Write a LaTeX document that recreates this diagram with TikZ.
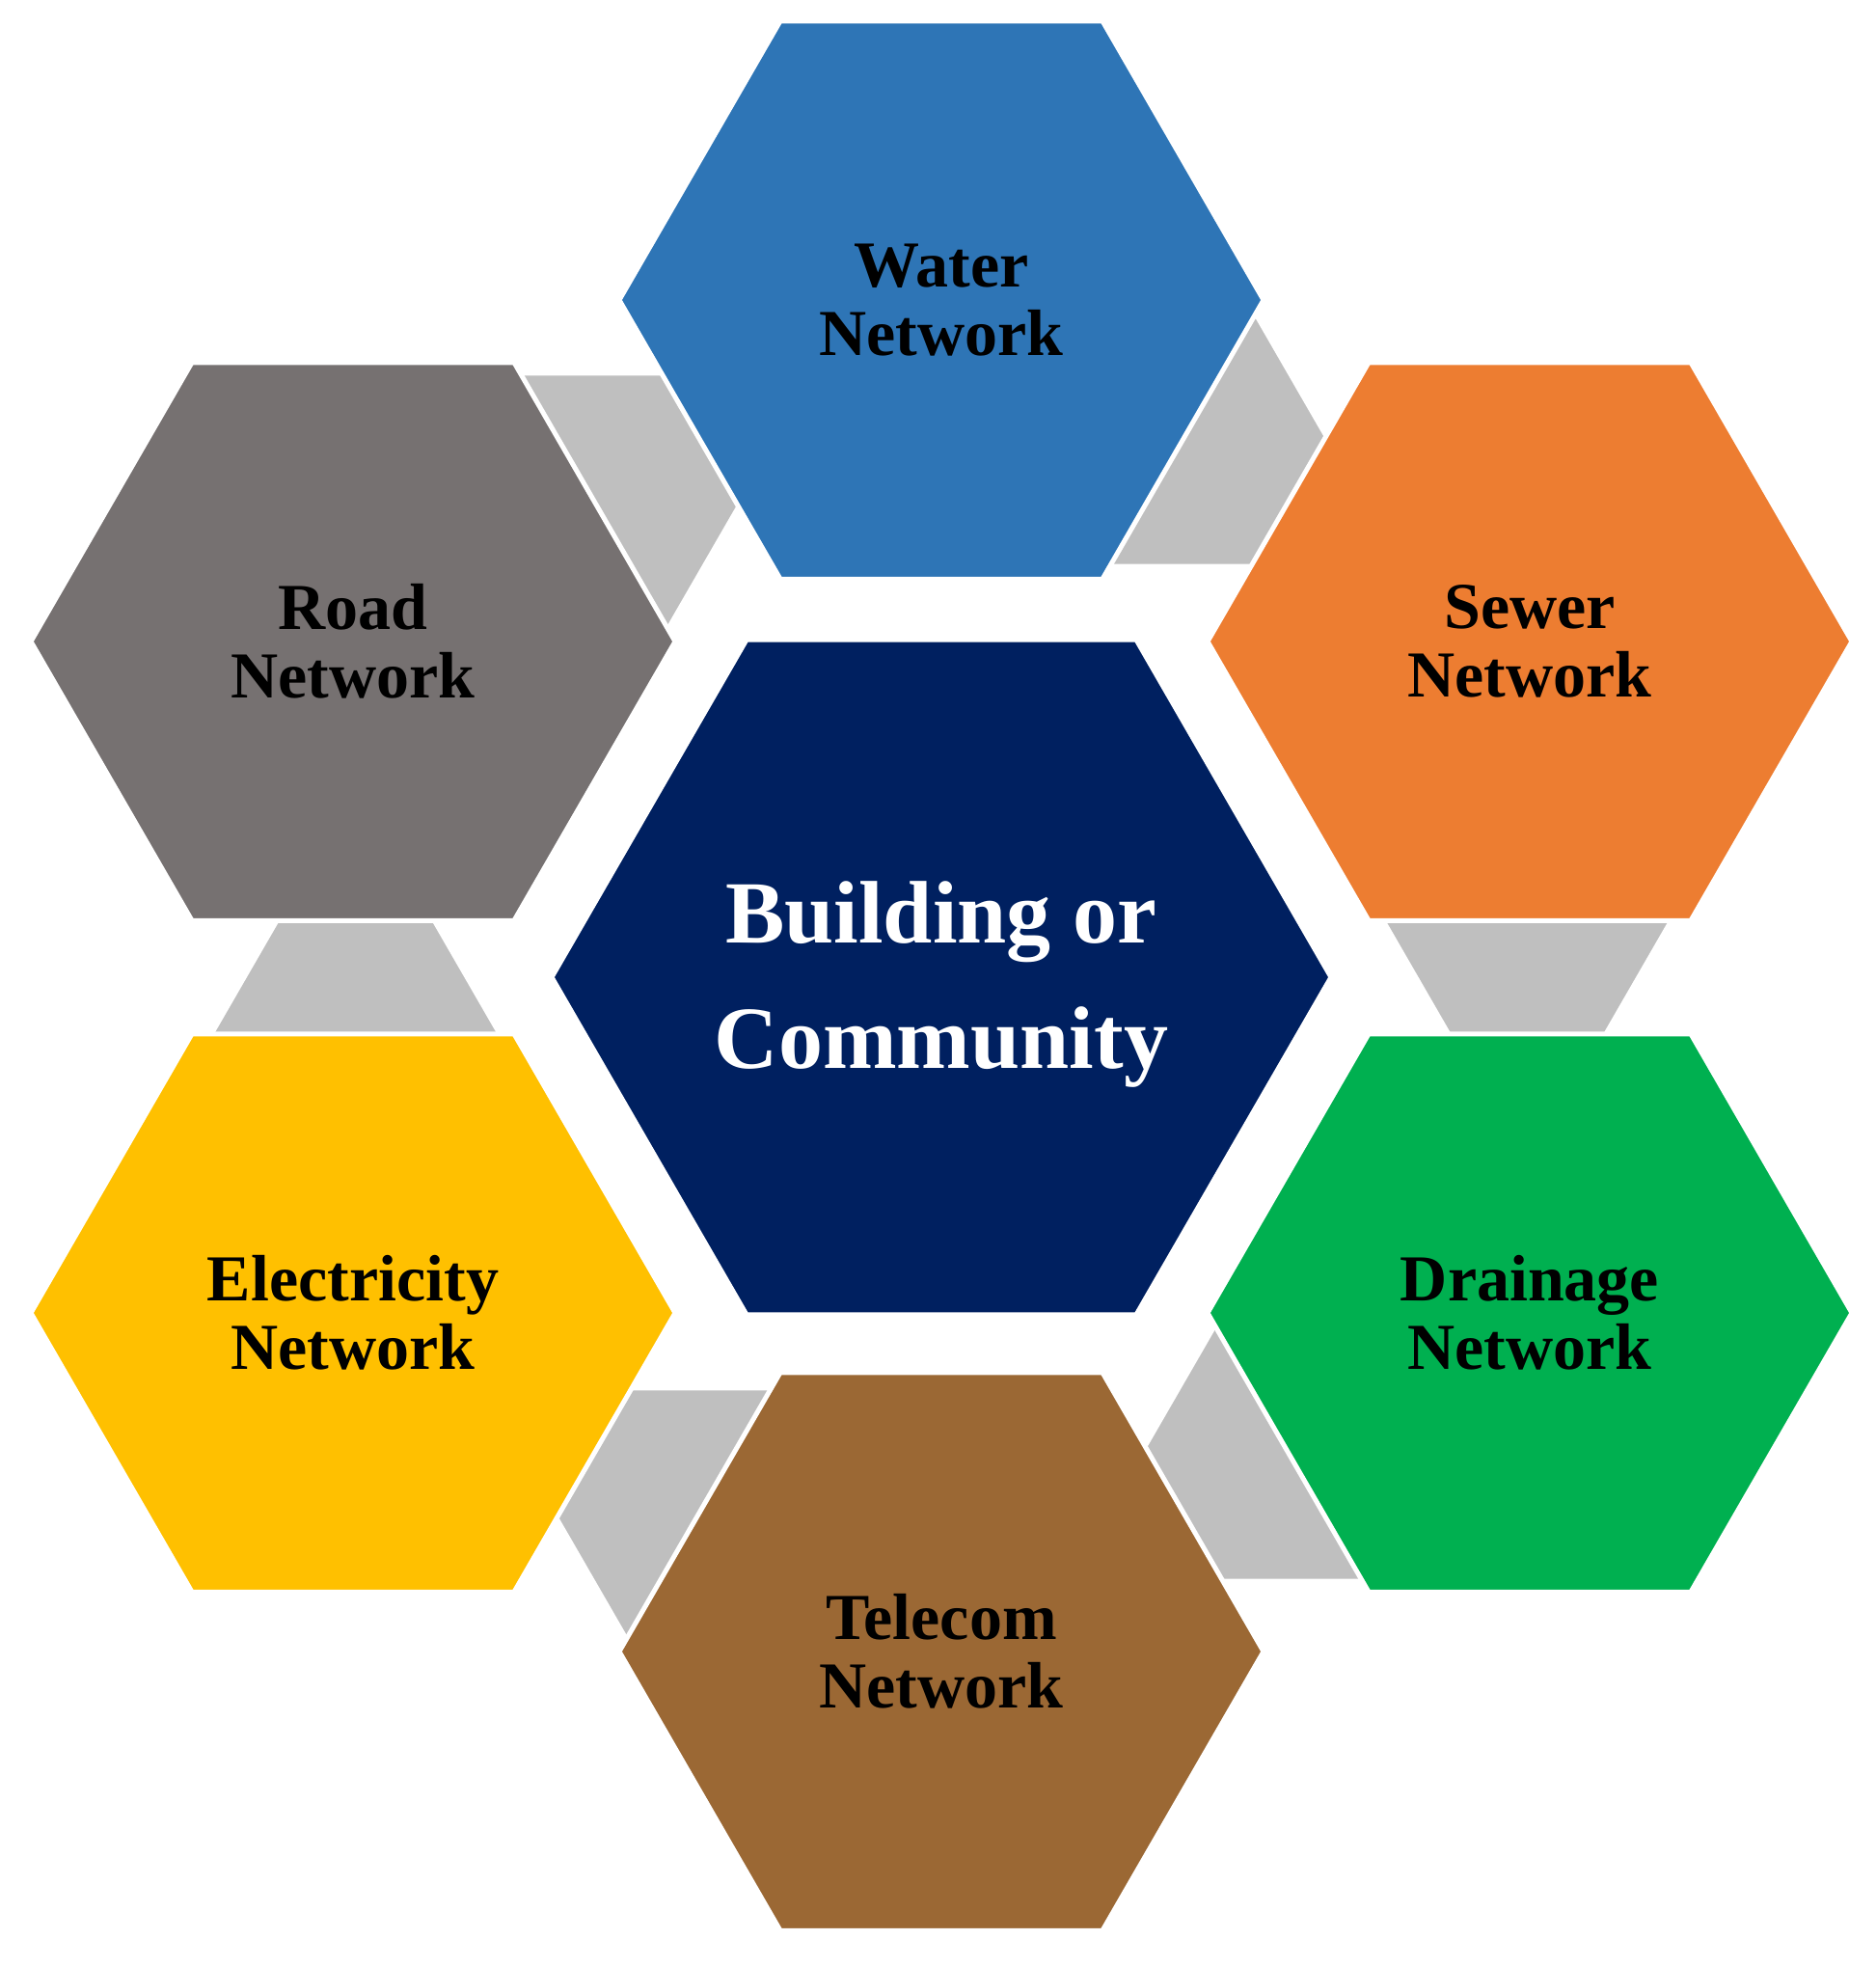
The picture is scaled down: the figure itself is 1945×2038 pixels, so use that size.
\documentclass[tikz,border=0pt]{standalone}
\usepackage{fontspec}
\setmainfont{Liberation Serif}
\usetikzlibrary{calc}
\definecolor{waterblue}{HTML}{2E75B6}
\definecolor{sewerorange}{HTML}{ED7D31}
\definecolor{draingreen}{HTML}{00B050}
\definecolor{telebrown}{HTML}{9B6834}
\definecolor{elecyellow}{HTML}{FFC000}
\definecolor{roadgrey}{HTML}{767171}
\definecolor{centrenavy}{HTML}{002060}
\definecolor{conngrey}{HTML}{BFBFBF}
\newcommand\myhex[3]{%
  \path[fill=#3, draw=white, line width=5pt, line join=miter]
    (#1) ++(0:#2) -- ++(120:#2) -- ++(180:#2) -- ++(240:#2)
    -- ++(300:#2) -- ++(0:#2) -- cycle;}
\begin{document}
\begin{tikzpicture}[x=1pt,y=-1pt,
  outerlbl/.style={align=center, text=black, inner sep=0pt,
    font=\fontsize{68}{71}\selectfont\bfseries},
  centrelbl/.style={align=center, text=white, inner sep=0pt,
    font=\fontsize{92}{130}\selectfont\bfseries}]
\useasboundingbox[fill=white] (0,0) rectangle (1945,2038);
\coordinate (C) at (976,1013);
\coordinate (cWater) at (976,311);
\coordinate (cRoad) at (366,665);
\coordinate (cSewer) at (1586,665);
\coordinate (cElec) at (366,1361);
\coordinate (cDrain) at (1586,1361);
\coordinate (cTele) at (976,1712);
% grey connector hexagons
\foreach \a in {173.75,233.75,293.75,353.75,53.75,113.75}{
  \myhex{$(C)+(\a:611)$}{154}{conngrey}
}
% outer hexagons
\myhex{cWater}{334}{waterblue}
\myhex{cRoad}{334}{roadgrey}
\myhex{cSewer}{334}{sewerorange}
\myhex{cElec}{334}{elecyellow}
\myhex{cDrain}{334}{draingreen}
\myhex{cTele}{334}{telebrown}
% centre hexagon
\myhex{C}{404}{centrenavy}
% labels
\node[outerlbl] (water) at (cWater) {Water\\Network};
\node[outerlbl] (road) at (cRoad) {Road\\Network};
\node[outerlbl] (sewer) at (cSewer) {Sewer\\Network};
\node[outerlbl] (elec) at (cElec) {Electricity\\Network};
\node[outerlbl] (drain) at (cDrain) {Drainage\\Network};
\node[outerlbl] (tele) at (cTele) {Telecom\\Network};
\node[centrelbl] (centre) at ($(C)+(0,7)$) {Building or\\Community};
\end{tikzpicture}
\end{document}
